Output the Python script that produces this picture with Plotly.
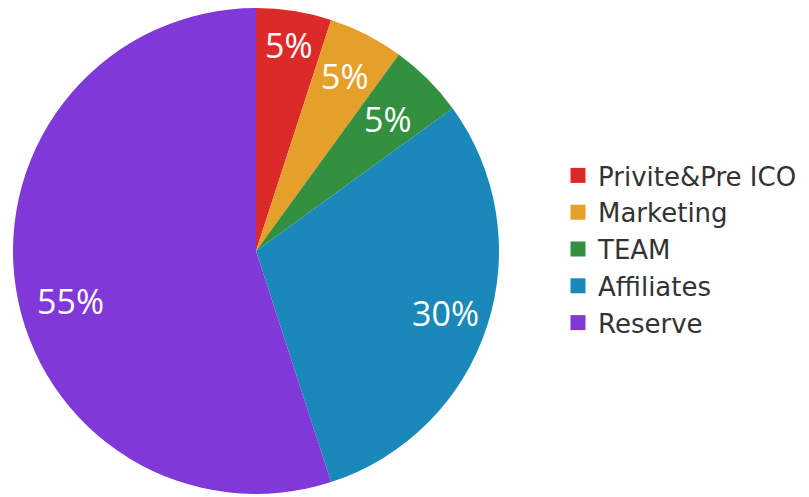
import math
import plotly.graph_objects as go

labels = ["Privite&Pre ICO", "Marketing", "TEAM", "Affiliates", "Reserve"]
values = [5, 5, 5, 30, 55]
colors = ["#dc2a2a", "#e4a02a", "#339040", "#1a88b8", "#8038d8"]
label_radius = [0.86, 0.81, 0.77, 0.82, 0.79]  # fraction of radius for the % text
label_turn = [0, 0, 0, 0, -6]  # degrees added to each slice's mid-angle for its text

W, H = 809, 497
OFF = 8  # page body margin
# pie box in figure pixels
px0, px1, py0, py1 = 13 - OFF, 499 - OFF, 8 - OFF, 494 - OFF

fig = go.Figure()
fig.add_trace(go.Pie(
    labels=labels, values=values, sort=False, direction="clockwise", rotation=0,
    marker=dict(colors=colors, line=dict(width=0)),
    textinfo="none", showlegend=False, hoverinfo="skip",
    domain=dict(x=[px0 / W, px1 / W], y=[1 - py1 / H, 1 - py0 / H]),
))

# percent labels placed along each slice's mid-angle
cx, cy = (px0 + px1) / 2, (py0 + py1) / 2
R = min(px1 - px0, py1 - py0) / 2
total = sum(values)
cum = 0
for v, rf, turn in zip(values, label_radius, label_turn):
    mid = (cum + v / 2) / total * 2 * math.pi + math.radians(turn)
    cum += v
    x = cx + rf * R * math.sin(mid)
    y = cy - rf * R * math.cos(mid)
    fig.add_annotation(x=x / W, y=1 - y / H, xref="paper", yref="paper",
                       xanchor="center", yanchor="middle",
                       text=f"{round(v / total * 100)}%", showarrow=False,
                       font=dict(color="white", size=34, family="Open Sans"))

# legend entries
for lab, col in zip(labels, colors):
    fig.add_trace(go.Scatter(x=[None], y=[None], mode="markers", name=lab,
                             marker=dict(symbol="square", size=15, color=col)))

fig.update_xaxes(visible=False)
fig.update_yaxes(visible=False)
fig.update_layout(
    width=W, height=H, margin=dict(l=0, r=0, t=0, b=0),
    paper_bgcolor="white", plot_bgcolor="white",
    showlegend=True,
    legend=dict(x=550 / W, y=1 - (249.5 - OFF) / H, xanchor="left", yanchor="middle",
                font=dict(size=26, color="#333333", family="DejaVu Sans"),
                itemsizing="trace", tracegroupgap=0, bgcolor="rgba(0,0,0,0)"),
)
fig.write_html("out.html")
